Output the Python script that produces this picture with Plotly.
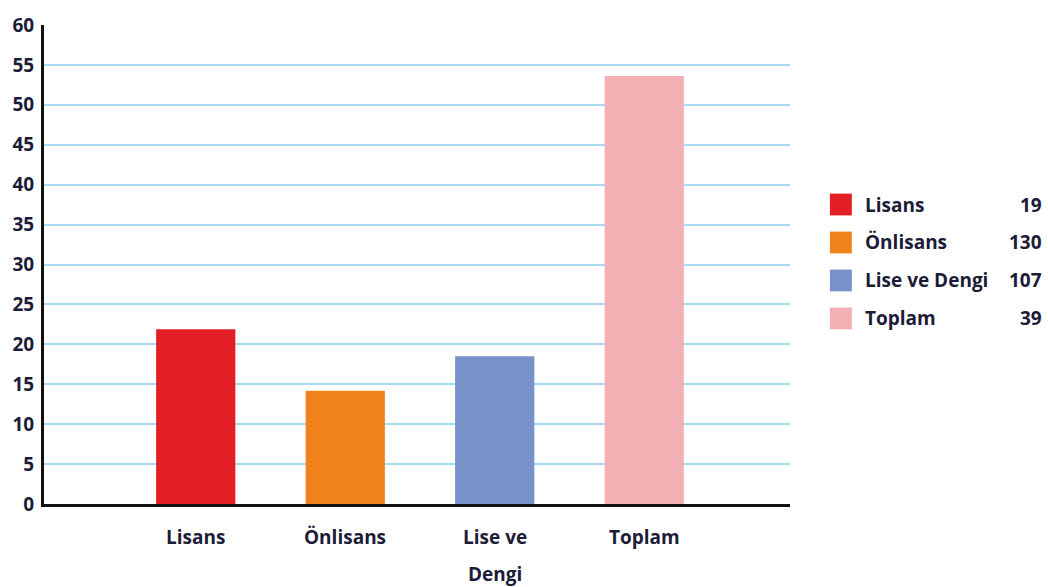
import plotly.graph_objects as go

categories = ["Lisans", "Önlisans", "Lise ve Dengi", "Toplam"]
category_lines = [["Lisans"], ["Önlisans"], ["Lise ve", "Dengi"], ["Toplam"]]
values = [21.9, 14.2, 18.5, 53.6]
legend_counts = [19, 130, 107, 39]
colors = ["#e31e24", "#f0821e", "#7891c8", "#f2b0b4"]
y_ticks = list(range(0, 61, 5))

FONT = "Open Sans"
TXT = "#1c1c38"
positions = [1, 2, 3, 4]

W, H = 1048, 587
L, R, T, B = 42, 258, 21, 83
PW, PH = W - L - R, H - T - B


def px(x):
    return (x - L) / PW


def py(y):
    return (H - B - y) / PH


fig = go.Figure()
fig.add_trace(go.Bar(
    x=positions, y=values, marker=dict(color=colors, line=dict(width=0)),
    width=0.53, showlegend=False, hoverinfo="y"
))

# category labels below the axis
for pos, lines in zip(positions, category_lines):
    for i, ln in enumerate(lines):
        fig.add_annotation(x=pos, y=0, xref="x", yref="paper", text=ln, showarrow=False,
                           yanchor="middle", yshift=-33 - 37 * i,
                           font=dict(family=FONT, size=19, color=TXT, weight="bold"))

# manual legend
for i, (name, cnt, col) in enumerate(zip(categories, legend_counts, colors)):
    yc = 202 + i * 38.3
    fig.add_shape(type="rect", xref="paper", yref="paper",
                  x0=px(830), x1=px(852), y0=py(yc + 11), y1=py(yc - 11),
                  fillcolor=col, line=dict(width=0))
    fig.add_annotation(xref="paper", yref="paper", x=px(863), y=py(yc),
                       text=name, showarrow=False, xanchor="left", yanchor="middle",
                       font=dict(family=FONT, size=19, color=TXT, weight="bold"))
    fig.add_annotation(xref="paper", yref="paper", x=px(1045), y=py(yc),
                       text=str(cnt), showarrow=False, xanchor="right", yanchor="middle",
                       font=dict(family=FONT, size=19, color=TXT, weight="bold"))

fig.update_layout(
    width=W, height=H,
    margin=dict(l=L, r=R, t=T, b=B),
    paper_bgcolor="white", plot_bgcolor="white",
    font=dict(family=FONT, size=19, color=TXT),
    xaxis=dict(range=[-0.015, 4.975], showticklabels=False, showgrid=False, zeroline=False,
               showline=True, linecolor="#111111", linewidth=3, ticks=""),
    yaxis=dict(range=[0, 60], tickvals=y_ticks, showgrid=True, gridcolor="#a8daf5", gridwidth=2,
               zeroline=False, showline=True, linecolor="#111111", linewidth=3, ticks="",
               ticklabelstandoff=3,
               tickfont=dict(family=FONT, size=19, color=TXT, weight="bold")),
)

fig.write_html("out.html")
